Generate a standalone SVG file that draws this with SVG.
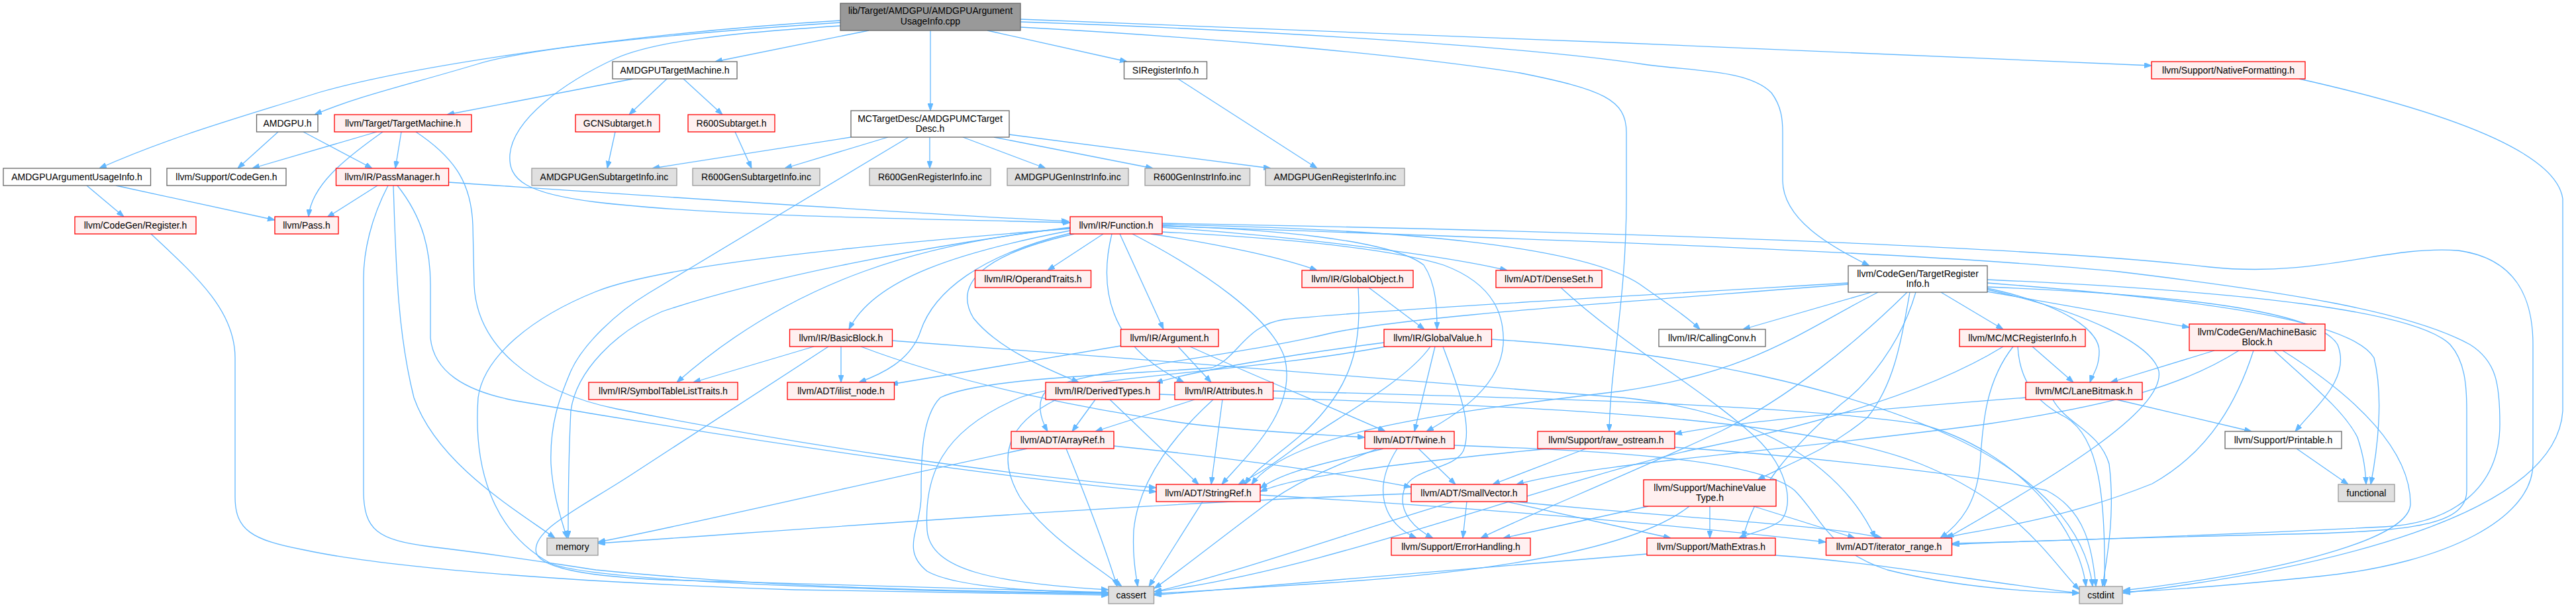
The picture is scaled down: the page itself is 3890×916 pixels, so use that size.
<svg xmlns="http://www.w3.org/2000/svg" width="3890" height="916" viewBox="0 0 3890 916">
<style>
text{font-family:"Liberation Sans",Arial,sans-serif;font-size:14px;fill:#000;text-anchor:middle}
.w rect{fill:#fff;stroke:#666;stroke-width:1.3}
.r rect{fill:#fff0f0;stroke:#f00;stroke-width:1.3}
.g rect{fill:#e0e0e0;stroke:#999;stroke-width:1.3}
.k rect{fill:#999;stroke:#666;stroke-width:1.3}
#edges path{fill:none;stroke:#63b8ff;stroke-width:1.3;marker-end:url(#a)}
</style>
<defs><marker id="a" markerWidth="11" markerHeight="8" refX="11" refY="4" orient="auto" markerUnits="userSpaceOnUse"><path d="M0,0 L11,4 L0,8 z" fill="#63b8ff" stroke="#63b8ff"/></marker></defs>
<rect width="3890" height="916" fill="#fff"/>
<g id="edges">
<path d="M1269,31 C950,50 620,100 480,140 C370,175 260,205 150,254"/>
<path d="M1269,34 C1000,52 800,72 720,97 C620,127 540,145 475,173"/>
<path d="M1312,46 L1080,93"/>
<path d="M1405,46 L1405,167"/>
<path d="M1491,46 L1702,93"/>
<path d="M1269,39 C1100,50 990,62 930,88 C850,125 775,180 770,233 C767,272 795,292 900,305 C1100,328 1400,330 1616,336"/>
<path d="M1541,33 C1900,45 2300,70 2482,97 C2560,108 2640,105 2675,140 C2690,160 2692,180 2692,200 L2692,273 C2693,330 2760,370 2823,401"/>
<path d="M1541,41 C1800,55 2100,80 2295,110 C2420,135 2456,150 2456,200 L2456,300 C2456,450 2432,550 2430,651"/>
<path d="M1541,29 C1900,40 2800,80 3249,99"/>
<path d="M131,280 L187,327"/>
<path d="M175,280 L415,332"/>
<path d="M420,199 L359,254"/>
<path d="M458,199 L562,254"/>
<path d="M956,119 L675,173"/>
<path d="M1007,119 L950,173"/>
<path d="M1032,119 L1091,173"/>
<path d="M569,199 L381,254"/>
<path d="M606,199 L597,254"/>
<path d="M578,199 C520,240 470,280 466,327"/>
<path d="M628,199 C690,240 712,280 714,340 L716,430 C720,520 800,590 931,617 C1200,670 1500,715 1746,736"/>
<path d="M929,199 L917,254"/>
<path d="M1110,199 L1135,254"/>
<path d="M1285,207 L985,254"/>
<path d="M1341,207 L1185,254"/>
<path d="M1404,207 L1404,254"/>
<path d="M1454,207 L1579,254"/>
<path d="M1501,207 L1741,254"/>
<path d="M1524,203 L1919,254"/>
<path d="M1372,207 L980,442 C930,472 880,520 862,560 C845,600 830,640 832,700 C835,750 850,790 856,812"/>
<path d="M1779,119 L1989,254"/>
<path d="M3472,119 C3700,170 3860,230 3870,300 L3870,620 C3860,780 3500,860 3206,895"/>
<path d="M228,353 C300,420 355,470 355,540 L355,750 C355,800 380,815 460,830 C600,860 900,880 1200,890 C1450,895 1600,897 1674,898"/>
<path d="M570,280 L494,328"/>
<path d="M677,275 C900,290 1300,318 1614,334"/>
<path d="M586,280 C560,330 549,380 549,420 L549,740 C549,800 570,815 650,825 C760,838 800,845 900,860 C1200,890 1500,893 1674,895"/>
<path d="M594,280 C598,400 600,500 625,600 C660,700 780,770 838,812"/>
<path d="M600,280 C640,330 650,380 650,430 L650,510 C655,560 700,590 780,605 C1100,660 1500,720 1746,742"/>
<path d="M1666,353 L1582,408"/>
<path d="M1616,348 C1450,380 1320,420 1282,497"/>
<path d="M1691,353 L1757,497"/>
<path d="M1616,344 C1400,365 1200,420 1022,577"/>
<path d="M1616,352 C1480,385 1410,440 1390,500 C1375,545 1330,565 1297,577"/>
<path d="M1622,353 C1480,385 1440,430 1470,480 C1510,530 1590,560 1629,577"/>
<path d="M1679,353 C1660,430 1670,520 1788,577"/>
<path d="M1738,353 C1850,370 1940,390 1989,408"/>
<path d="M1755,343 C2000,360 2200,390 2276,408"/>
<path d="M1755,341 C1900,345 2100,360 2150,400 C2170,430 2170,470 2170,497"/>
<path d="M1755,339 C2100,345 2400,370 2482,433 C2520,460 2550,480 2567,497"/>
<path d="M1616,343 C1400,370 1150,420 1000,470 C930,500 870,560 862,620 C858,700 858,760 858,812"/>
<path d="M1616,345 C1300,370 1000,400 900,440 C800,480 730,540 722,600 C715,700 740,800 831,850 C900,880 1400,893 1674,896"/>
<path d="M1755,350 C1950,360 2100,375 2180,400 C2260,430 2272,480 2270,520 C2265,580 2210,620 2154,651"/>
<path d="M1710,353 C1820,410 1920,480 1940,540 C1960,620 1880,690 1845,731"/>
<path d="M1755,341 C2300,360 2900,380 3200,410 C3450,440 3640,470 3730,520 C3770,545 3775,580 3775,640 C3775,740 3700,790 3600,795 C3300,810 3050,818 2948,820"/>
<path d="M1755,337 C2500,350 3100,375 3337,403 C3500,420 3600,370 3712,378 C3800,390 3825,450 3825,520 L3825,700 C3825,780 3700,850 3500,870 C3350,885 3250,892 3206,893"/>
<path d="M1229,523 L1047,577"/>
<path d="M1270,523 L1270,577"/>
<path d="M1251,523 L960,712 C880,765 800,800 810,835 C820,860 900,870 1000,875 C1300,885 1550,892 1674,894"/>
<path d="M1300,523 C1450,580 1650,620 1800,640 C1900,652 2000,656 2061,660"/>
<path d="M1347,514 C1700,540 2200,580 2450,600 C2650,620 2780,700 2832,812"/>
<path d="M1692,522 L1345,580"/>
<path d="M1779,523 L1829,577"/>
<path d="M1797,523 C1900,570 2000,610 2092,651"/>
<path d="M2067,434 L2151,497"/>
<path d="M2051,434 C2055,500 2050,560 2000,620 C1960,670 1900,700 1880,731"/>
<path d="M2167,523 L2136,651"/>
<path d="M2090,517 C1950,535 1800,560 1745,578"/>
<path d="M2160,523 C2120,580 2000,640 1950,680 C1910,710 1890,720 1870,731"/>
<path d="M2179,523 C2200,580 2225,640 2210,680 C2195,710 2130,705 2120,740 C2110,775 2140,800 2164,812"/>
<path d="M2098,522 C1900,560 1620,570 1540,600 C1420,650 1395,720 1400,800 C1405,860 1500,880 1674,890"/>
<path d="M2252,512 C2550,530 2800,590 2950,660 C3080,720 3150,800 3160,885"/>
<path d="M2826,441 L2632,497"/>
<path d="M2931,441 L3025,497"/>
<path d="M3001,435 C3120,460 3170,500 3170,530 C3170,555 3160,565 3156,577"/>
<path d="M3001,440 L3306,494"/>
<path d="M3001,433 C3300,445 3500,470 3530,520 C3550,570 3500,610 3466,651"/>
<path d="M3001,427 C3300,450 3550,480 3585,540 C3600,600 3590,680 3580,731"/>
<path d="M3001,422 C3400,440 3650,470 3700,520 C3722,545 3725,580 3725,620 L3725,740 C3725,790 3650,800 3500,805 C3200,812 3000,818 2948,822"/>
<path d="M3001,437 C3150,470 3250,520 3260,560 C3270,620 3100,720 2940,812"/>
<path d="M2884,441 C2870,520 2860,580 2820,630 C2760,680 2700,700 2654,724"/>
<path d="M2893,441 C2870,520 2820,580 2780,610 C2700,680 2650,740 2632,812"/>
<path d="M2880,441 C2800,520 2700,600 2600,650 C2450,720 2300,780 2236,812"/>
<path d="M2836,441 C2720,500 2650,560 2450,590 C2200,620 1950,650 1890,731"/>
<path d="M2791,427 C2400,450 2050,470 1940,482 C1880,490 1870,540 1830,555 C1700,565 1480,570 1420,600 C1390,630 1391,700 1391,750 C1390,800 1360,830 1400,862 C1450,890 1600,893 1674,895"/>
<path d="M2791,429 C2400,460 2100,480 2000,505 C1850,540 1620,560 1580,590 C1565,605 1570,630 1582,651"/>
<path d="M3069,523 L3131,577"/>
<path d="M3025,523 C2900,600 2700,650 2550,680 C2300,740 2000,860 1743,893"/>
<path d="M3040,523 C2995,580 2994,650 2990,700 C2985,760 2960,790 2930,812"/>
<path d="M3047,523 C3050,580 3080,610 3120,630 C3170,660 3180,750 3178,885"/>
<path d="M3344,529 L3187,577"/>
<path d="M3381,529 C3300,580 3200,610 3000,640 C2700,680 2400,700 2290,731"/>
<path d="M3403,529 C3380,600 3340,680 3250,730 C3100,790 2980,800 2935,812"/>
<path d="M3434,529 C3490,580 3540,620 3560,660 C3570,690 3572,710 3573,731"/>
<path d="M3447,529 C3560,600 3640,680 3640,760 C3640,820 3400,870 3206,891"/>
<path d="M1654,603 L1619,651"/>
<path d="M1676,603 L1810,731"/>
<path d="M1595,603 C1520,640 1505,690 1540,750 C1580,810 1650,850 1694,885"/>
<path d="M1751,595 C2200,610 2700,620 2900,700 C3050,760 3100,850 3140,890"/>
<path d="M1804,603 L1654,651"/>
<path d="M1846,603 L1829,731"/>
<path d="M1832,603 C1780,650 1720,720 1712,800 C1710,840 1715,865 1718,885"/>
<path d="M1922,590 C2300,600 2700,610 2900,640 C3050,680 3140,800 3150,885"/>
<path d="M1551,677 C1300,730 1050,790 903,818"/>
<path d="M1610,677 C1640,750 1670,830 1687,885"/>
<path d="M1682,673 C1850,690 2000,710 2131,735"/>
<path d="M1816,757 L1735,885"/>
<path d="M1903,747 C2300,770 2600,800 2757,818"/>
<path d="M2089,677 C2000,700 1940,710 1903,737"/>
<path d="M2142,677 L2198,731"/>
<path d="M2110,677 C2070,740 2090,790 2139,812"/>
<path d="M2080,677 C2000,710 1950,730 1900,770 C1820,830 1770,870 1743,888"/>
<path d="M2196,672 C2400,680 2650,690 2710,740 C2750,780 2760,830 2850,860 C2950,885 3050,893 3140,895"/>
<path d="M2395,677 L2254,731"/>
<path d="M2339,677 C2100,700 1950,720 1903,742"/>
<path d="M2529,675 C2750,690 3000,720 3090,740 C3150,770 3160,830 3165,885"/>
<path d="M2195,757 C2050,800 1850,870 1743,893"/>
<path d="M2215,757 L2209,812"/>
<path d="M2275,757 L2523,812"/>
<path d="M2289,757 C2500,780 2750,790 2842,812"/>
<path d="M2131,745 C1700,760 1200,800 903,820"/>
<path d="M2489,764 L2270,812"/>
<path d="M2582,764 L2582,812"/>
<path d="M2648,764 L2801,812"/>
<path d="M2551,764 C2480,820 2300,860 2000,880 C1850,890 1780,893 1743,896"/>
<path d="M2487,836 C2200,860 1900,885 1743,898"/>
<path d="M2681,838 C2850,850 3000,880 3140,895"/>
<path d="M3059,600 C2800,620 2600,640 2529,655"/>
<path d="M3196,603 L3400,651"/>
<path d="M3100,603 C3120,640 3170,650 3185,700 C3195,780 3180,850 3175,885"/>
<path d="M3468,677 L3546,731"/>
<path d="M2357,434 C2450,520 2560,580 2640,650 C2700,700 2710,760 2690,785 C2670,800 2640,805 2626,812"/>
</g>
<g id="root" class="k"><rect x="1269" y="5" width="272" height="41"/><text x="1405" y="21">lib/Target/AMDGPU/AMDGPUArgument</text><text x="1405" y="37">UsageInfo.cpp</text></g>
<g id="atm" class="w"><rect x="925" y="93" width="188" height="26"/><text x="1019" y="111">AMDGPUTargetMachine.h</text></g>
<g id="sir" class="w"><rect x="1697.5" y="93" width="125" height="26"/><text x="1760" y="111">SIRegisterInfo.h</text></g>
<g id="nf" class="r"><rect x="3249" y="93" width="232" height="26"/><text x="3365" y="111">llvm/Support/NativeFormatting.h</text></g>
<g id="amdgpu" class="w"><rect x="387.5" y="173" width="92.5" height="26"/><text x="434" y="191">AMDGPU.h</text></g>
<g id="tm" class="r"><rect x="505" y="173" width="207" height="26"/><text x="608.5" y="191">llvm/Target/TargetMachine.h</text></g>
<g id="gcn" class="r"><rect x="869" y="173" width="127" height="26"/><text x="932.5" y="191">GCNSubtarget.h</text></g>
<g id="r600s" class="r"><rect x="1039" y="173" width="131" height="26"/><text x="1104.5" y="191">R600Subtarget.h</text></g>
<g id="mctd" class="w"><rect x="1285" y="167" width="239" height="40"/><text x="1404.5" y="184">MCTargetDesc/AMDGPUMCTarget</text><text x="1404.5" y="199">Desc.h</text></g>
<g id="aaui" class="w"><rect x="5" y="254" width="222.5" height="26"/><text x="116" y="272">AMDGPUArgumentUsageInfo.h</text></g>
<g id="cg" class="w"><rect x="252" y="254" width="180" height="26"/><text x="342" y="272">llvm/Support/CodeGen.h</text></g>
<g id="pm" class="r"><rect x="507.5" y="254" width="170" height="26"/><text x="592.5" y="272">llvm/IR/PassManager.h</text></g>
<g id="agsi" class="g"><rect x="803" y="254" width="219" height="26"/><text x="912.5" y="272">AMDGPUGenSubtargetInfo.inc</text></g>
<g id="rgsi" class="g"><rect x="1046" y="254" width="192" height="26"/><text x="1142" y="272">R600GenSubtargetInfo.inc</text></g>
<g id="rgri" class="g"><rect x="1313" y="254" width="183" height="26"/><text x="1404.5" y="272">R600GenRegisterInfo.inc</text></g>
<g id="agii" class="g"><rect x="1521" y="254" width="183" height="26"/><text x="1612.5" y="272">AMDGPUGenInstrInfo.inc</text></g>
<g id="rgii" class="g"><rect x="1729" y="254" width="158.5" height="26"/><text x="1808" y="272">R600GenInstrInfo.inc</text></g>
<g id="agri" class="g"><rect x="1911" y="254" width="210" height="26"/><text x="2016" y="272">AMDGPUGenRegisterInfo.inc</text></g>
<g id="reg" class="r"><rect x="113" y="327" width="183" height="26"/><text x="204.5" y="345">llvm/CodeGen/Register.h</text></g>
<g id="pass" class="r"><rect x="415" y="327" width="96" height="26"/><text x="463" y="345">llvm/Pass.h</text></g>
<g id="fn" class="r"><rect x="1616" y="327" width="139" height="26"/><text x="1685.5" y="345">llvm/IR/Function.h</text></g>
<g id="ot" class="r"><rect x="1472.5" y="408" width="175" height="26"/><text x="1560" y="426">llvm/IR/OperandTraits.h</text></g>
<g id="go" class="r"><rect x="1966" y="408" width="168" height="26"/><text x="2050" y="426">llvm/IR/GlobalObject.h</text></g>
<g id="ds" class="r"><rect x="2259" y="408" width="160" height="26"/><text x="2339" y="426">llvm/ADT/DenseSet.h</text></g>
<g id="tri" class="w"><rect x="2791" y="401" width="210" height="40"/><text x="2896" y="418">llvm/CodeGen/TargetRegister</text><text x="2896" y="433">Info.h</text></g>
<g id="bb" class="r"><rect x="1192.5" y="497" width="155" height="26"/><text x="1270" y="515">llvm/IR/BasicBlock.h</text></g>
<g id="arg" class="r"><rect x="1692.5" y="497" width="147.5" height="26"/><text x="1766" y="515">llvm/IR/Argument.h</text></g>
<g id="gv" class="r"><rect x="2090" y="497" width="162.5" height="26"/><text x="2171" y="515">llvm/IR/GlobalValue.h</text></g>
<g id="cc" class="w"><rect x="2505" y="497" width="161" height="26"/><text x="2585.5" y="515">llvm/IR/CallingConv.h</text></g>
<g id="mcri" class="r"><rect x="2959" y="497" width="190" height="26"/><text x="3054" y="515">llvm/MC/MCRegisterInfo.h</text></g>
<g id="mbb" class="r"><rect x="3306" y="489" width="205" height="40"/><text x="3408.5" y="506">llvm/CodeGen/MachineBasic</text><text x="3408.5" y="521">Block.h</text></g>
<g id="stlt" class="r"><rect x="889" y="577" width="225" height="26"/><text x="1001.5" y="595">llvm/IR/SymbolTableListTraits.h</text></g>
<g id="in" class="r"><rect x="1189" y="577" width="161.5" height="26"/><text x="1270" y="595">llvm/ADT/ilist_node.h</text></g>
<g id="dt" class="r"><rect x="1579" y="577" width="172" height="26"/><text x="1665" y="595">llvm/IR/DerivedTypes.h</text></g>
<g id="attr" class="r"><rect x="1774" y="577" width="148.5" height="26"/><text x="1848" y="595">llvm/IR/Attributes.h</text></g>
<g id="lb" class="r"><rect x="3059" y="577" width="176" height="26"/><text x="3147" y="595">llvm/MC/LaneBitmask.h</text></g>
<g id="ar" class="r"><rect x="1527" y="651" width="155" height="26"/><text x="1604.5" y="669">llvm/ADT/ArrayRef.h</text></g>
<g id="tw" class="r"><rect x="2061" y="651" width="135" height="26"/><text x="2128.5" y="669">llvm/ADT/Twine.h</text></g>
<g id="ro" class="r"><rect x="2322" y="651" width="207" height="26"/><text x="2425.5" y="669">llvm/Support/raw_ostream.h</text></g>
<g id="pr" class="w"><rect x="3360" y="651" width="176" height="26"/><text x="3448" y="669">llvm/Support/Printable.h</text></g>
<g id="sr" class="r"><rect x="1746" y="731" width="157" height="26"/><text x="1824.5" y="749">llvm/ADT/StringRef.h</text></g>
<g id="sv" class="r"><rect x="2131" y="731" width="175" height="26"/><text x="2218.5" y="749">llvm/ADT/SmallVector.h</text></g>
<g id="mvt" class="r"><rect x="2482" y="724" width="200" height="40"/><text x="2582" y="741">llvm/Support/MachineValue</text><text x="2582" y="756">Type.h</text></g>
<g id="func" class="g"><rect x="3531" y="731" width="85" height="26"/><text x="3573.5" y="749">functional</text></g>
<g id="mem" class="g"><rect x="826" y="812" width="77" height="26"/><text x="864.5" y="830">memory</text></g>
<g id="eh" class="r"><rect x="2101" y="812" width="210" height="26"/><text x="2206" y="830">llvm/Support/ErrorHandling.h</text></g>
<g id="me" class="r"><rect x="2487" y="812" width="194" height="26"/><text x="2584" y="830">llvm/Support/MathExtras.h</text></g>
<g id="ir" class="r"><rect x="2757.5" y="812" width="190" height="26"/><text x="2852.5" y="830">llvm/ADT/iterator_range.h</text></g>
<g id="ca" class="g"><rect x="1674" y="885" width="68.5" height="26"/><text x="1708" y="903">cassert</text></g>
<g id="ci" class="g"><rect x="3140" y="885" width="65" height="26"/><text x="3172.5" y="903">cstdint</text></g>
</svg>
